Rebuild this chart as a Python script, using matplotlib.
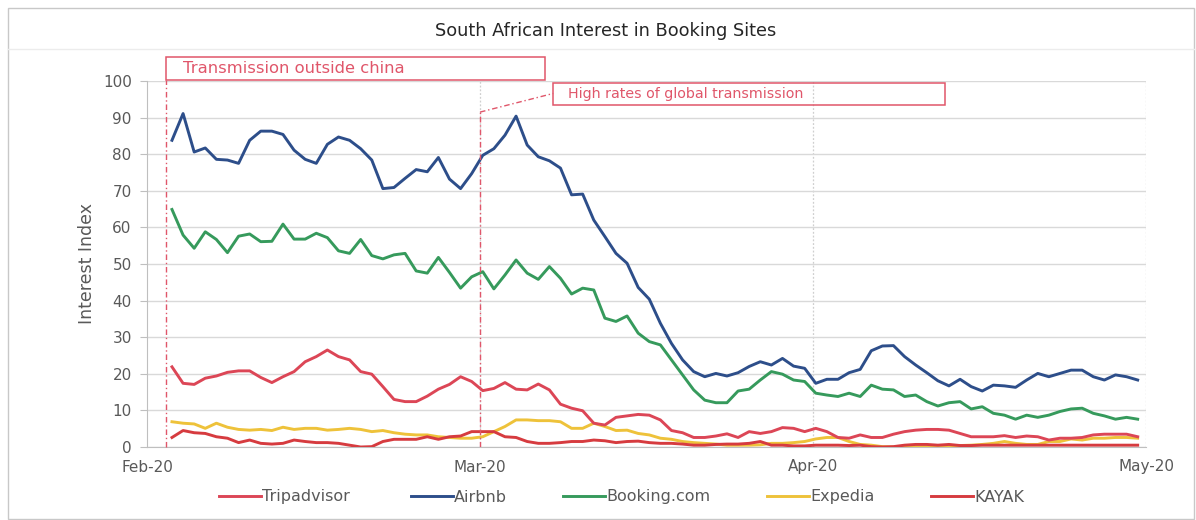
import numpy as np
import matplotlib
matplotlib.use("Agg")
import matplotlib.pyplot as plt
from matplotlib.patches import Rectangle
from matplotlib.lines import Line2D

# ---------------- data ----------------
title = "South African Interest in Booking Sites"
series_names = ["Tripadvisor", "Airbnb", "Booking.com", "Expedia", "KAYAK"]
month_labels = ["Feb-20", "Mar-20", "Apr-20", "May-20"]
month_pos = [0, 30, 60, 90]          # days from start of Feb on the (equal-month) axis
days = np.arange(88) + 2.25           # daily observations

tripadvisor = [21.9, 17.4, 17.1, 18.8, 19.4, 20.4, 20.8, 20.8, 19.0, 17.6,
               19.2, 20.6, 23.3, 24.7, 26.5, 24.7, 23.8, 20.6, 19.9, 16.5,
               13.0, 12.4, 12.4, 13.9, 15.8, 17.1, 19.2, 17.9, 15.4, 16.0,
               17.6, 15.8, 15.6, 17.2, 15.6, 11.7, 10.6, 9.9, 6.5, 6.0,
               8.1, 8.5, 8.9, 8.7, 7.4, 4.5, 3.9, 2.6, 2.6, 3.0,
               3.6, 2.6, 4.2, 3.7, 4.2, 5.3, 5.1, 4.2, 5.1, 4.2,
               2.6, 2.4, 3.3, 2.6, 2.6, 3.5, 4.2, 4.6, 4.8, 4.8,
               4.6, 3.7, 2.8, 2.8, 2.8, 3.1, 2.6, 3.0, 2.8, 1.9,
               2.4, 2.4, 2.6, 3.3, 3.5, 3.5, 3.5, 2.8]
airbnb = [83.8, 91.1, 80.6, 81.7, 78.6, 78.4, 77.5, 83.8, 86.3, 86.3,
          85.4, 81.1, 78.6, 77.5, 82.7, 84.7, 83.8, 81.5, 78.4, 70.6,
          70.9, 73.4, 75.8, 75.2, 79.1, 73.2, 70.6, 74.7, 79.7, 81.5,
          85.2, 90.4, 82.5, 79.3, 78.2, 76.2, 68.9, 69.1, 62.0, 57.5,
          52.9, 50.2, 43.6, 40.4, 33.8, 28.3, 23.8, 20.6, 19.2, 20.1,
          19.4, 20.3, 22.0, 23.3, 22.4, 24.2, 22.1, 21.5, 17.4, 18.5,
          18.5, 20.3, 21.2, 26.3, 27.6, 27.7, 24.7, 22.4, 20.3, 18.1,
          16.7, 18.5, 16.5, 15.3, 16.9, 16.7, 16.3, 18.3, 20.1, 19.2,
          20.1, 21.0, 21.0, 19.2, 18.3, 19.7, 19.2, 18.3]
booking = [64.9, 57.9, 54.3, 58.8, 56.7, 53.1, 57.6, 58.2, 56.1, 56.2,
           60.9, 56.8, 56.8, 58.4, 57.2, 53.6, 52.9, 56.7, 52.3, 51.4,
           52.5, 52.9, 48.1, 47.5, 51.8, 47.7, 43.4, 46.5, 47.9, 43.2,
           47.0, 51.1, 47.5, 45.8, 49.3, 46.1, 41.8, 43.4, 42.9, 35.2,
           34.3, 35.8, 31.1, 28.8, 27.9, 23.8, 19.7, 15.6, 12.8, 12.1,
           12.1, 15.3, 15.8, 18.3, 20.6, 19.9, 18.3, 17.9, 14.7, 14.2,
           13.8, 14.7, 13.8, 16.9, 15.8, 15.6, 13.8, 14.2, 12.4, 11.2,
           12.1, 12.4, 10.4, 11.0, 9.2, 8.7, 7.6, 8.7, 8.1, 8.7,
           9.7, 10.4, 10.6, 9.2, 8.5, 7.6, 8.1, 7.6]
expedia = [6.9, 6.5, 6.3, 5.1, 6.5, 5.4, 4.8, 4.6, 4.8, 4.5,
           5.4, 4.8, 5.1, 5.1, 4.6, 4.8, 5.1, 4.8, 4.2, 4.5,
           3.9, 3.5, 3.3, 3.3, 2.8, 2.6, 2.4, 2.4, 2.8, 4.2,
           5.6, 7.4, 7.4, 7.2, 7.2, 6.9, 5.1, 5.1, 6.5, 5.6,
           4.5, 4.6, 3.7, 3.3, 2.4, 2.1, 1.5, 1.2, 1.0, 0.8,
           0.5, 0.5, 0.5, 0.6, 1.0, 1.0, 1.2, 1.5, 2.2, 2.6,
           2.6, 1.5, 0.7, 0.5, 0.1, 0.0, 0.0, 0.1, 0.1, 0.1,
           0.4, 0.4, 0.5, 0.7, 1.0, 1.5, 1.0, 0.7, 0.7, 1.5,
           1.5, 2.2, 1.9, 2.4, 2.4, 2.6, 2.6, 2.4]
kayak = [2.6, 4.5, 3.9, 3.7, 2.8, 2.4, 1.2, 1.9, 1.0, 0.8,
         1.0, 1.9, 1.5, 1.2, 1.2, 1.0, 0.5, 0.0, 0.1, 1.5,
         2.1, 2.1, 2.1, 2.8, 2.1, 2.8, 3.0, 4.2, 4.2, 4.2,
         2.8, 2.6, 1.5, 1.0, 1.0, 1.2, 1.5, 1.5, 1.9, 1.7,
         1.2, 1.5, 1.6, 1.2, 1.0, 1.0, 0.8, 0.5, 0.5, 0.7,
         0.8, 0.8, 1.0, 1.5, 0.5, 0.5, 0.3, 0.3, 0.5, 0.5,
         0.5, 0.4, 0.5, 0.1, 0.0, 0.1, 0.5, 0.7, 0.7, 0.5,
         0.7, 0.4, 0.4, 0.5, 0.5, 0.5, 0.5, 0.5, 0.5, 0.5,
         0.5, 0.5, 0.5, 0.5, 0.5, 0.5, 0.5, 0.5]

annot1_text = "Transmission outside china"
annot2_text = "High rates of global transmission"

# ---------------- style ----------------
colors = {"Tripadvisor": "#dc4656", "Airbnb": "#2d4e8a", "Booking.com": "#369a5c",
          "Expedia": "#eec23a", "KAYAK": "#d63b3f"}
grid_c = "#d9d9d9"
text_c = "#595959"
annot_c = "#e0566a"

fig = plt.figure(figsize=(11.96, 5.20), dpi=100)
fig.patch.set_facecolor("white")

# outer frame and title band
fig.add_artist(Rectangle((8 / 1196, 0.002), 1186 / 1196, 1 - 8 / 520 - 0.002,
                         transform=fig.transFigure, fill=False, ec="#c8c8c8", lw=1.0))
fig.add_artist(Line2D([8 / 1196, 1194 / 1196], [1 - 49 / 520, 1 - 49 / 520],
                      transform=fig.transFigure, color="#ececec", lw=1.0))
fig.text(606 / 1196, 1 - 31 / 520, title, ha="center", va="center",
         fontsize=12.8, color="#262626")

ax = fig.add_axes([147 / 1196, 1 - 447 / 520, (1146 - 147) / 1196, (447 - 81) / 520])
ax.set_xlim(0, 90)
ax.set_ylim(0, 100)

# grid
ax.set_yticks(np.arange(0, 101, 10))
ax.set_xticks(month_pos)
ax.set_xticklabels(month_labels)
ax.yaxis.grid(True, color=grid_c, lw=1.0)
for m in month_pos[1:]:
    ax.axvline(m, color="#cfcfcf", lw=0.9, ls=(0, (1.5, 1.5)), zorder=0.5)
ax.set_axisbelow(True)

for s in ["top", "right"]:
    ax.spines[s].set_visible(False)
ax.spines["left"].set_color("#bfbfbf")
ax.spines["bottom"].set_color("#bfbfbf")
ax.tick_params(axis="y", colors="#bfbfbf", labelcolor=text_c, labelsize=11, length=5, pad=6)
ax.tick_params(axis="x", colors="#bfbfbf", labelcolor=text_c, labelsize=11, length=0, pad=9)
ax.set_ylabel("Interest Index", fontsize=12.5, color=text_c, labelpad=5)

series = {"Tripadvisor": tripadvisor, "Airbnb": airbnb, "Booking.com": booking,
          "Expedia": expedia, "KAYAK": kayak}
zorders = {"Tripadvisor": 3, "Airbnb": 3, "Booking.com": 3, "Expedia": 2.5, "KAYAK": 2.8}
handles = {}
for name in series_names:
    ln, = ax.plot(days, series[name], color=colors[name], lw=2.1, label=name,
                  solid_joinstyle="round", zorder=zorders[name])
    handles[name] = ln

# annotations
dashdot = (0, (4, 2, 1, 2))
ax.add_patch(Rectangle((1.71, 100.3), 34.15, 6.3, fill=False, ec=annot_c,
                       lw=1.1, clip_on=False, zorder=5))
ax.text(3.2, 103.4, annot1_text, color=annot_c, fontsize=11.8, va="center",
        ha="left", clip_on=False)
ax.plot([1.71, 1.71], [0, 100.3], color=annot_c, lw=1.0, ls=dashdot, clip_on=False, zorder=4)

ax.add_patch(Rectangle((36.6, 93.4), 35.3, 6.1, fill=False, ec=annot_c,
                       lw=1.1, clip_on=False, zorder=5))
ax.text(37.9, 96.4, annot2_text, color=annot_c, fontsize=10.3, va="center",
        ha="left", clip_on=False)
ax.plot([30.0, 30.0], [0, 91.5], color=annot_c, lw=1.0, ls=dashdot, zorder=4)
ax.plot([30.0, 36.6], [91.5, 96.6], color=annot_c, lw=1.0, ls=dashdot, clip_on=False, zorder=4)

# legend entries placed individually like the original
legend_x = [219, 411, 563, 767, 931]
for name, xp in zip(series_names, legend_x):
    lg = fig.legend(handles=[handles[name]], labels=[name], loc="center left",
                    bbox_to_anchor=(xp / 1196, 1 - 497 / 520), frameon=False,
                    fontsize=11.5, handlelength=2.6, handletextpad=0.1,
                    borderpad=0, borderaxespad=0)
    for t in lg.get_texts():
        t.set_color(text_c)

fig.savefig("out.png", dpi=100, facecolor="white")
